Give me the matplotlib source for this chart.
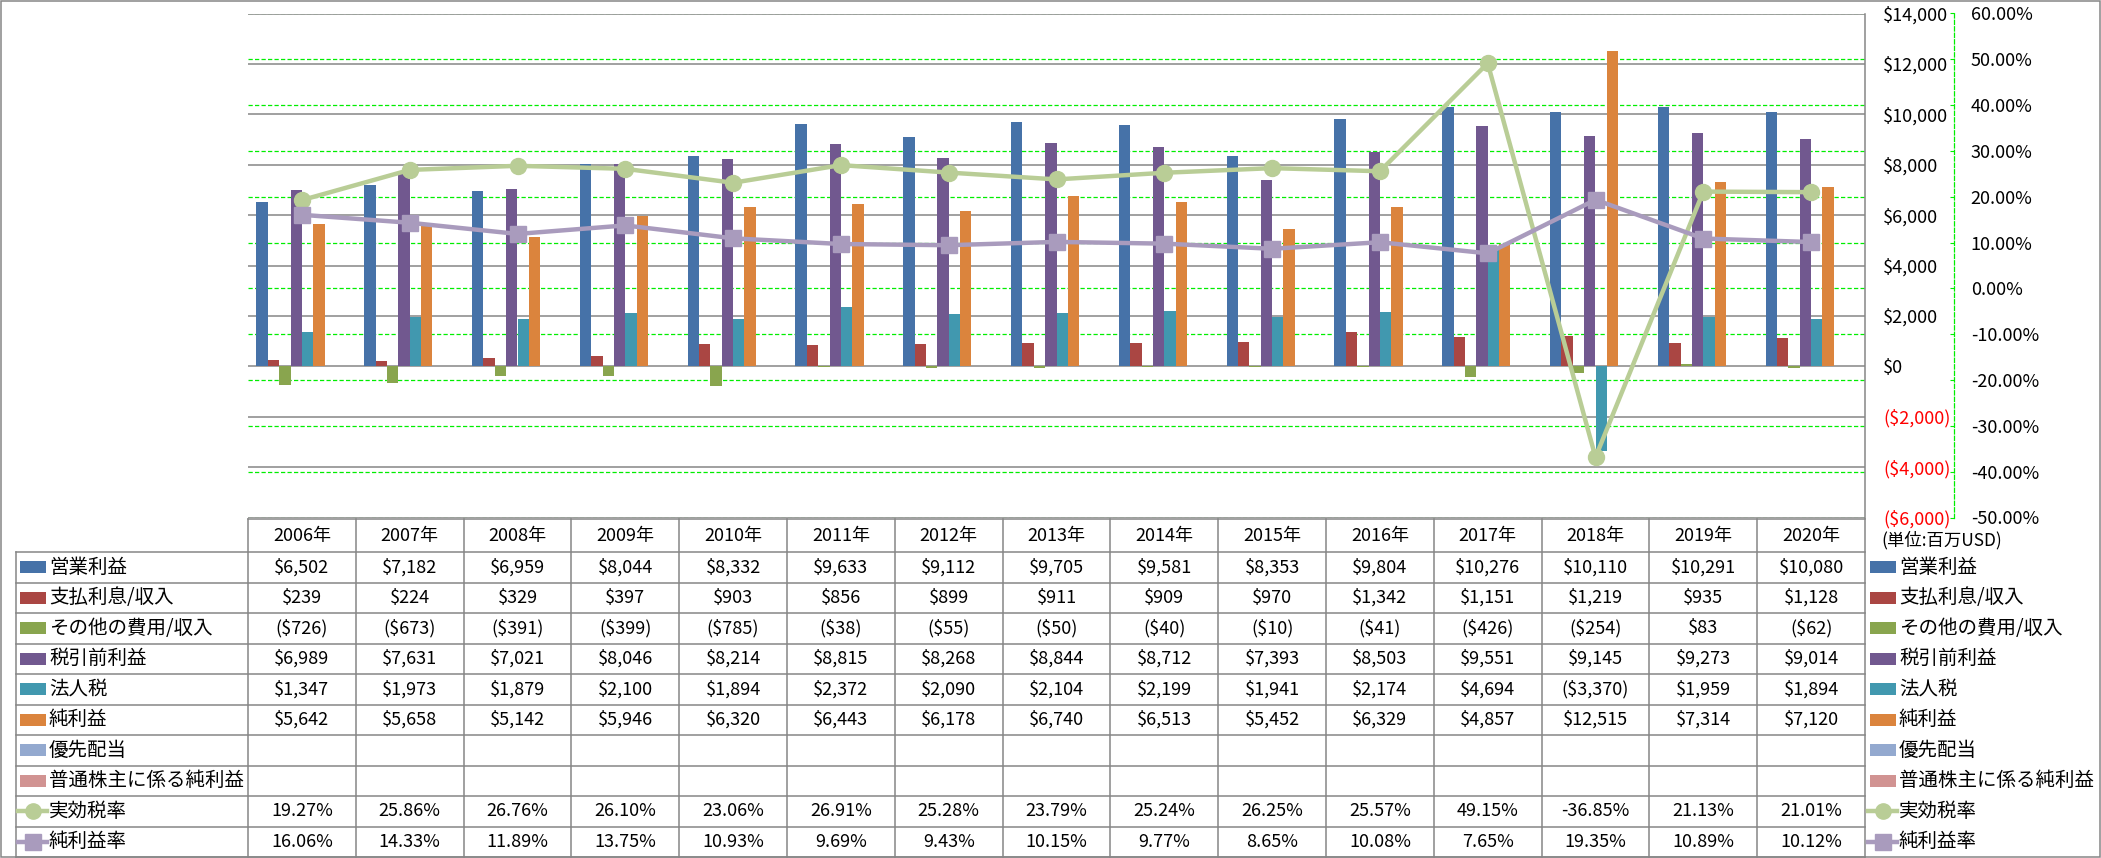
import matplotlib.pyplot as plt
from matplotlib.patches import Rectangle
from matplotlib.lines import Line2D
import numpy as np

years = [2006, 2007, 2008, 2009, 2010, 2011, 2012, 2013, 2014, 2015, 2016, 2017, 2018, 2019, 2020]

op_income = [6502, 7182, 6959, 8044, 8332, 9633, 9112, 9705, 9581, 8353, 9804, 10276, 10110, 10291, 10080]
interest = [239, 224, 329, 397, 903, 856, 899, 911, 909, 970, 1342, 1151, 1219, 935, 1128]
other_exp = [-726, -673, -391, -399, -785, -38, -55, -50, -40, -10, -41, -426, -254, 83, -62]
pretax = [6989, 7631, 7021, 8046, 8214, 8815, 8268, 8844, 8712, 7393, 8503, 9551, 9145, 9273, 9014]
income_tax = [1347, 1973, 1879, 2100, 1894, 2372, 2090, 2104, 2199, 1941, 2174, 4694, -3370, 1959, 1894]
net_income = [5642, 5658, 5142, 5946, 6320, 6443, 6178, 6740, 6513, 5452, 6329, 4857, 12515, 7314, 7120]
pref_div = [None] * 15
common_ni = [None] * 15
tax_rate = [19.27, 25.86, 26.76, 26.10, 23.06, 26.91, 25.28, 23.79, 25.24, 26.25, 25.57, 49.15, -36.85, 21.13, 21.01]
net_margin = [16.06, 14.33, 11.89, 13.75, 10.93, 9.69, 9.43, 10.15, 9.77, 8.65, 10.08, 7.65, 19.35, 10.89, 10.12]

bar_names = ["営業利益", "支払利息/収入", "その他の費用/収入", "税引前利益", "法人税", "純利益", "優先配当", "普通株主に係る純利益"]
line_names = ["実効税率", "純利益率"]
usd_ticks = list(range(-6000, 14001, 2000))
pct_ticks = list(range(-50, 61, 10))
unit_note = "(単位:百万USD)"

W, H = 2101, 858
GRAY = "#868686"
GRID_GREEN = "#00ee00"


def money(v):
    return f"${v:,}" if v >= 0 else f"(${-v:,})"


def main():
    plt.rcParams['font.family'] = ['Noto Sans CJK JP', 'DejaVu Sans']
    fig = plt.figure(figsize=(W / 100, H / 100), dpi=100)

    left, right, top, bottom = 248, 1865, 13.5, 517.5
    rect = [left / W, 1 - bottom / H, (right - left) / W, (bottom - top) / H]
    n = len(years)
    x = np.arange(n)

    bar_series = [op_income, interest, other_exp, pretax, income_tax, net_income, pref_div, common_ni]
    bar_colors = ["#4672a8", "#aa4643", "#89a54e", "#71588f", "#4198af", "#db843d", "#93a9cf", "#d19392"]
    line_series = [tax_rate, net_margin]
    line_colors = ["#b9cd96", "#a99bbd"]
    line_markers = ["o", "s"]

    ###########################################################################
    # secondary gridlines (green dashed) behind the bars
    axg = fig.add_axes(rect)
    axg.set_xlim(-0.5, n - 0.5)
    axg.set_ylim(-50, 60)
    axg.set_yticks(pct_ticks)
    axg.set_xticks([])
    axg.grid(axis="y", color=GRID_GREEN, linestyle=(0, (3.4, 1.8)), linewidth=0.9)
    axg.tick_params(left=False, labelleft=False)
    for s in axg.spines.values():
        s.set_visible(False)

    ###########################################################################
    # bars, primary axis on the right
    ax = fig.add_axes(rect, facecolor="none")
    ax2 = ax.twinx()

    ax.set_xlim(-0.5, n - 0.5)
    ax.set_ylim(-6000, 14000)
    ax.set_xticks([])
    ax.yaxis.tick_right()
    ax.set_yticks(usd_ticks, [money(v) for v in usd_ticks])
    ax.tick_params(axis="y", length=0, pad=13, labelsize=13)
    for t, v in zip(ax.yaxis.get_major_ticks(), usd_ticks):
        t.label2.set_color("red" if v < 0 else "black")
    ax.grid(axis="y", color=GRAY, linewidth=1.1)
    ax.set_axisbelow(True)
    for k in ["left", "top", "bottom"]:
        ax.spines[k].set_visible(False)
    ax.spines["right"].set_color(GRAY)
    ax.spines["right"].set_linewidth(1.1)

    bw = 0.1055
    for i, (vals, c) in enumerate(zip(bar_series, bar_colors)):
        v = np.array([np.nan if a is None else a for a in vals], dtype=float)
        ax.bar(x + (i - 3.5) * bw, v, width=bw, color=c, linewidth=0)

    ###########################################################################
    # lines on the secondary axis
    ax2.set_ylim(-50, 60)
    ax2.set_yticks(pct_ticks, [f"{v:.2f}%" for v in pct_ticks])
    ax2.tick_params(axis="y", direction="in", length=3, color=GRID_GREEN, pad=12, labelsize=13)
    for t, v in zip(ax2.yaxis.get_major_ticks(), pct_ticks):
        t.label2.set_color("red" if v < 0 else "black")
    for k in ["left", "top", "bottom"]:
        ax2.spines[k].set_visible(False)
    ax2.spines["right"].set_position(("outward", (1954 - right) * 0.72))
    ax2.spines["right"].set_color(GRID_GREEN)
    ax2.spines["right"].set_linestyle((0, (3.4, 1.8)))
    ax2.spines["right"].set_linewidth(0.9)

    for vals, c, m in zip(line_series, line_colors, line_markers):
        ax2.plot(x, vals, color=c, linewidth=3.2, marker=m, markersize=11.5,
                 markerfacecolor=c, markeredgecolor=c, zorder=5)

    ###########################################################################
    # data table drawn in pixel coordinates
    tb = fig.add_axes([0, 0, 1, 1], facecolor="none")
    tb.set_xlim(0, W)
    tb.set_ylim(H, 0)
    tb.axis("off")

    cw = (right - left) / n
    head_top, head_bot = 519, 552
    rh = (857 - head_bot) / 10
    row_edges = [head_bot + k * rh for k in range(11)]
    lw = 1.1

    tb.plot([left, right], [head_top, head_top], color=GRAY, lw=lw)
    for y in row_edges:
        tb.plot([16, right], [y, y], color=GRAY, lw=lw)
    tb.plot([16, 16], [head_bot, row_edges[-1]], color=GRAY, lw=lw)
    for k in range(n + 1):
        xx = left + k * cw
        tb.plot([xx, xx], [head_top, row_edges[-1]], color=GRAY, lw=lw)

    for k, yr in enumerate(years):
        tb.text(left + (k + 0.5) * cw, (head_top + head_bot) / 2, f"{yr}年",
                ha="center", va="center", fontsize=13)

    rows = []
    for name, vals, c in zip(bar_names, bar_series, bar_colors):
        rows.append((name, "bar", c, None, [("" if v is None else money(v)) for v in vals]))
    for name, vals, c, m in zip(line_names, line_series, line_colors, line_markers):
        rows.append((name, "line", c, m, [f"{v:.2f}%" for v in vals]))

    for r, (name, kind, c, m, texts) in enumerate(rows):
        yc = (row_edges[r] + row_edges[r + 1]) / 2
        for bx, tx in [(20, 49), (1870, 1899)]:
            if kind == "bar":
                tb.add_patch(Rectangle((bx, yc - 6), 26, 12, color=c, lw=0))
            else:
                tb.add_line(Line2D([bx - 2, bx + 27], [yc, yc], color=c, lw=3.2))
                tb.add_line(Line2D([bx + 12.5], [yc], marker=m, markersize=11, color=c))
            tb.text(tx, yc, name, ha="left", va="center", fontsize=14)
        for k, t in enumerate(texts):
            tb.text(left + (k + 0.5) * cw, yc, t, ha="center", va="center", fontsize=13)

    tb.text(1881, 540, unit_note, ha="left", va="center", fontsize=12.5)

    # chart area border
    tb.add_patch(Rectangle((0.75, 0.75), W - 1.5, H - 1.5, fill=False, ec=GRAY, lw=1.1))

    fig.savefig("out.png", dpi=100)


main()
